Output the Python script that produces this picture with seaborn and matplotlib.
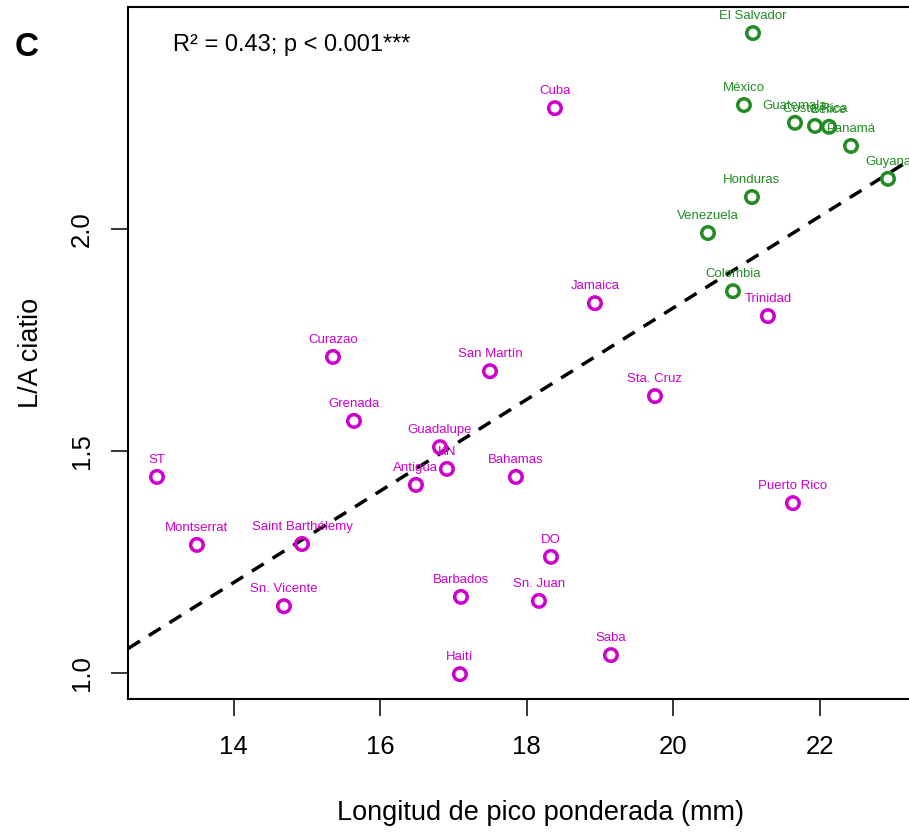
import numpy as np
import pandas as pd
import seaborn as sns
import matplotlib.pyplot as plt

# valores
paises = ['ST', 'Montserrat', 'Curazao', 'Grenada', 'Saint Barthélemy', 'Sn. Vicente',
          'Guadalupe', 'KN', 'Antigua', 'San Martín', 'Bahamas', 'Barbados', 'Haití',
          'DO', 'Sn. Juan', 'Saba', 'Cuba', 'Jamaica', 'Sta. Cruz', 'Trinidad', 'Puerto Rico',
          'El Salvador', 'México', 'Guatemala', 'Costa Rica', 'Belice', 'Panamá', 'Guyana',
          'Honduras', 'Venezuela', 'Colombia']
longitud_pico = [12.954, 13.499, 15.355, 15.641, 14.932, 14.686,
                 16.815, 16.910, 16.487, 17.497, 17.851, 17.101, 17.087,
                 18.329, 18.165, 19.147, 18.383, 18.929, 19.748, 21.289, 21.630,
                 21.085, 20.962, 21.658, 21.931, 22.122, 22.422, 22.927,
                 21.071, 20.471, 20.812]
la_ciatio = [1.442, 1.289, 1.712, 1.568, 1.291, 1.151,
             1.509, 1.460, 1.424, 1.680, 1.442, 1.172, 0.998,
             1.262, 1.163, 1.041, 2.272, 1.833, 1.624, 1.804, 1.383,
             2.441, 2.279, 2.239, 2.232, 2.230, 2.187, 2.113,
             2.072, 1.991, 1.860]
grupo = ['Islas'] * 21 + ['Continente'] * 10

colores = {'Islas': '#CD00CD', 'Continente': '#228B22'}

df = pd.DataFrame({'pais': paises, 'x': longitud_pico, 'y': la_ciatio, 'grupo': grupo})

sns.set_theme(style='ticks')
plt.rcParams['font.family'] = ['Liberation Sans', 'DejaVu Sans']
plt.rcParams['text.color'] = 'black'
plt.rcParams['axes.labelcolor'] = 'black'
plt.rcParams['xtick.color'] = 'black'
plt.rcParams['ytick.color'] = 'black'

fig = plt.figure(figsize=(9.09, 8.32), dpi=100)
ax = fig.add_axes([0.1411, 0.1595, 0.9062, 0.8317])
ax.set_xlim(12.562, 23.80)
ax.set_ylim(0.9415, 2.499)

sns.scatterplot(data=df, x='x', y='y', hue='grupo', palette=colores, s=81,
                linewidth=2.5, legend=False, ax=ax, zorder=3)
pts = ax.collections[0]
pts.set_edgecolors(pts.get_facecolors())
pts.set_facecolors('none')

sns.regplot(data=df, x='x', y='y', scatter=False, ci=None, truncate=False, ax=ax,
            line_kws={'color': 'black', 'lw': 2.5, 'ls': (0, (4, 3))})

for _, r in df.iterrows():
    ax.annotate(r['pais'], (r['x'], r['y']), xytext=(0, 10), textcoords='offset points',
                ha='center', va='baseline', fontsize=9.5, color=colores[r['grupo']])

ax.text(0.0543, 0.945, 'R² = 0.43; p < 0.001***', transform=ax.transAxes,
        fontsize=17, va='center', ha='left')
fig.text(27 / 909, 1 - 48 / 832, 'C', fontsize=24, fontweight='bold', ha='center', va='center')

ax.set_xticks([14, 16, 18, 20, 22])
ax.set_yticks([1.0, 1.5, 2.0])
ax.set_yticklabels(['1.0', '1.5', '2.0'])
ax.tick_params(axis='both', length=12, width=1.1, labelsize=18.5)
ax.tick_params(axis='x', pad=14)
ax.tick_params(axis='y', pad=13, labelrotation=90)
for t in ax.get_yticklabels():
    t.set_va('center')

for sp in ax.spines.values():
    sp.set_linewidth(1.5)
    sp.set_color('black')

ax.set_xlabel('Longitud de pico ponderada (mm)', fontsize=19.5)
ax.set_ylabel('L/A ciatio', fontsize=19.5)
ax.xaxis.set_label_coords(0.5, -0.1455)
ax.yaxis.set_label_coords(-0.1023, 0.5)

fig.savefig('out.png', dpi=100)
